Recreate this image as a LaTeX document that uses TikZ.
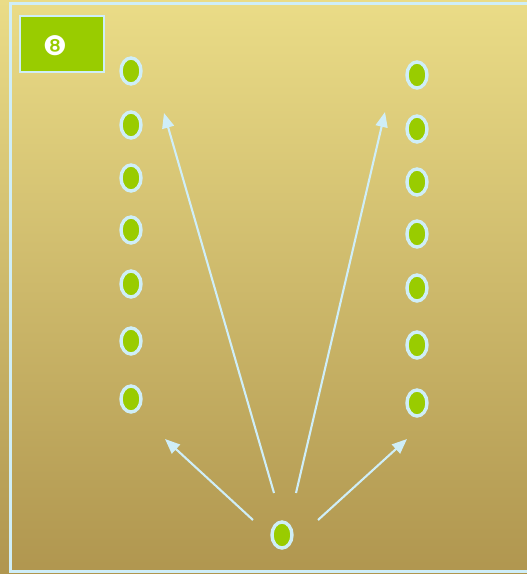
\documentclass[tikz,border=0pt]{standalone}
\usepackage{fontspec}
\newfontfamily\dejavu{DejaVu Sans}
\usetikzlibrary{arrows.meta,shapes.geometric}
\definecolor{bgtop}{HTML}{EADC87}
\definecolor{bgbot}{HTML}{B0964F}
\definecolor{lblue}{HTML}{CFEEF8}
\definecolor{lgreen}{HTML}{99CC00}
\tikzset{
  dot/.style={ellipse, draw=lblue, line width=3.4pt, fill=lgreen, minimum width=20pt, minimum height=26pt, inner sep=0pt},
  arr/.style={draw=lblue, line width=2.1pt, -{Triangle[length=15pt,width=12pt]}},
}
\begin{document}
\begin{tikzpicture}[x=1pt,y=-1pt]
\useasboundingbox (0,0) rectangle (527,574);
\shade[top color=bgtop, bottom color=bgbot] (0,0) rectangle (527,574);
\draw[lblue, line width=2.6pt] (530,3.5) -- (10.5,3.5) -- (10.5,571.5) -- (530,571.5);
\node[draw=lblue, line width=1.8pt, fill=lgreen, minimum width=84pt, minimum height=56pt, inner sep=0pt] (badge) at (62,44) {};
\node[text=white, font=\dejavu\fontsize{27}{27}\selectfont, inner sep=0pt] (num) at (55,46) {❽};
\foreach \i/\y in {1/71,2/125,3/178,4/230,5/284,6/341,7/399} {
  \node[dot] (L\i) at (131,\y) {};
}
\foreach \i/\y in {1/75,2/129,3/182,4/234,5/288,6/345,7/403} {
  \node[dot] (R\i) at (417,\y) {};
}
\node[dot] (B) at (282,535) {};
\coordinate (s1) at (274,493);
\coordinate (e1) at (164,113);
\coordinate (s2) at (296,493);
\coordinate (e2) at (385,112);
\coordinate (s3) at (253,520);
\coordinate (e3) at (165,439);
\coordinate (s4) at (318,520);
\coordinate (e4) at (407,439);
\draw[arr] (s1) -- (e1);
\draw[arr] (s2) -- (e2);
\draw[arr] (s3) -- (e3);
\draw[arr] (s4) -- (e4);
\end{tikzpicture}
\end{document}
